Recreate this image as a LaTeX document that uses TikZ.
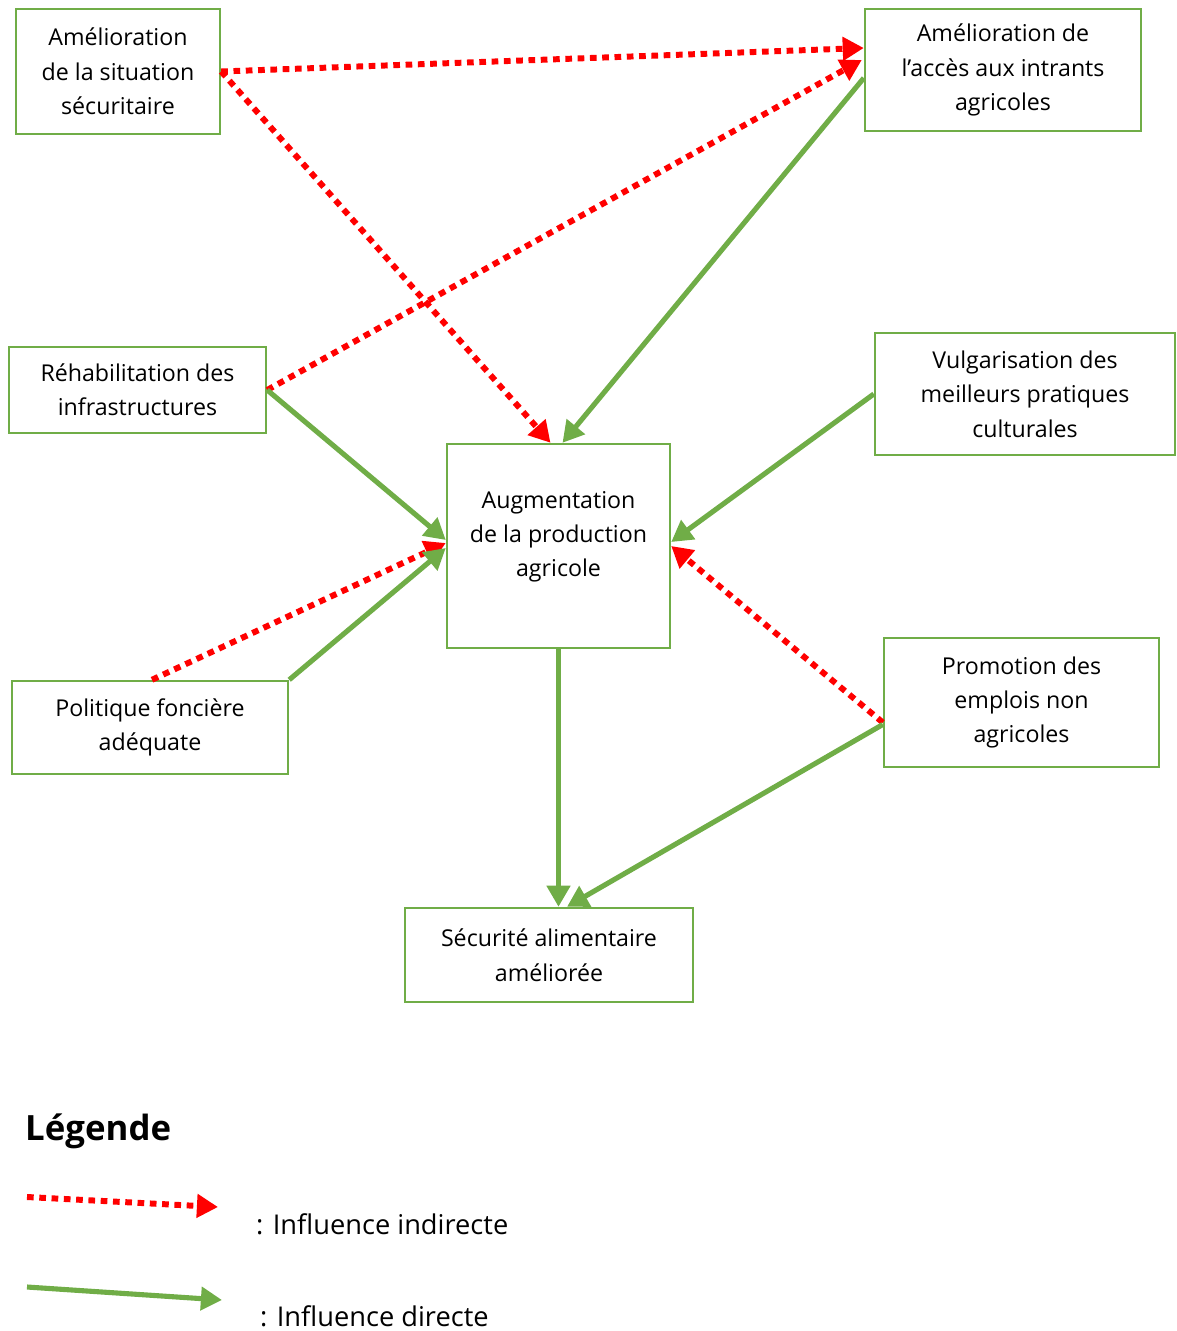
\documentclass[tikz,border=0pt]{standalone}
\usepackage{fontspec}
\setmainfont{Open Sans}
\usetikzlibrary{arrows.meta,calc}
\definecolor{boxgreen}{RGB}{112,173,71}
\definecolor{dotred}{RGB}{255,0,0}

\begin{document}
\begin{tikzpicture}[x=0.02cm, y=-0.02cm,
  every node/.style={draw=boxgreen, line width=1.4pt, align=center, inner sep=0pt, font=\fontsize{13.2}{19.6}\selectfont},
  indirect/.style={draw=dotred, line width=3.4pt, dash pattern=on 3.8pt off 3.2pt, -{Triangle[length=12pt,width=13pt]}},
  direct/.style={draw=boxgreen, line width=2.9pt, -{Triangle[length=12pt,width=13pt]}},
  legtext/.style={draw=none, anchor=west, font=\fontsize{15.5}{18}\selectfont}]
\useasboundingbox (0,0) rectangle (1176,1331);

% Boxes
\node[minimum width=4.08cm, minimum height=2.5cm] (secu) at (118,71.5) {Amélioration\\de la situation\\sécuritaire};
\node[minimum width=5.52cm, minimum height=2.44cm] (intr) at (1003,70) {Amélioration de\\l’accès aux intrants\\agricoles};
\node[minimum width=5.14cm, minimum height=1.72cm] (rehab) at (137.5,390) {Réhabilitation des\\infrastructures};
\node[minimum width=6.0cm, minimum height=2.44cm] (vulg) at (1025,394) {Vulgarisation des\\meilleurs pratiques\\culturales};
\node[minimum width=4.46cm, minimum height=4.08cm] (aug) at (558.5,546) {Augmentation\\de la production\\agricole\\[-0.21cm]};
\node[minimum width=5.52cm, minimum height=1.86cm] (fonc) at (150,727.5) {Politique foncière\\adéquate};
\node[minimum width=5.5cm, minimum height=2.58cm] (emploi) at (1021.5,702.5) {Promotion des\\emplois non\\agricoles};
\node[minimum width=5.76cm, minimum height=1.88cm] (alim) at (549,955) {Sécurité alimentaire\\améliorée};

% Indirect
\draw[indirect] (secu.east) -- ($(intr.west)+(0,-22)$);
\draw[indirect] (secu.east) -- ($(aug.north)+(-8,0)$);
\draw[indirect] (rehab.east) -- ($(intr.west)+(-2,-10)$);
\draw[indirect] ($(fonc.north)+(2,0)$) -- ($(aug.west)+(0,-3)$);
\draw[indirect] ($(emploi.west)+(0,20)$) -- (aug.east);

% Direct
\draw[direct] ($(intr.west)+(0,8)$) -- ($(aug.north)+(4,0)$);
\draw[direct] (rehab.east) -- ($(aug.west)+(0,-6)$);
\draw[direct] (fonc.north east) -- ($(aug.west)+(0,2)$);
\draw[direct] (vulg.west) -- ($(aug.east)+(0,-4)$);
\draw[direct] (aug.south) -- (aug.south |- alim.north);
\draw[direct] ($(emploi.west)+(0,22)$) -- ($(alim.north)+(18,0)$);

% Legend
\node[draw=none, anchor=west, font=\fontsize{19.8}{22}\bfseries] (leg) at (24,1131) {Légende};
\coordinate (i1) at (27,1197);
\coordinate (i2) at (218,1207);
\coordinate (d1) at (27,1287);
\coordinate (d2) at (222,1300);
\draw[indirect] (i1) -- (i2);
\draw[direct] (d1) -- (d2);
\node[legtext] (ind) at (255,1224) {: Influence indirecte};
\node[legtext] (dir) at (259,1316) {: Influence directe};
\end{tikzpicture}
\end{document}
